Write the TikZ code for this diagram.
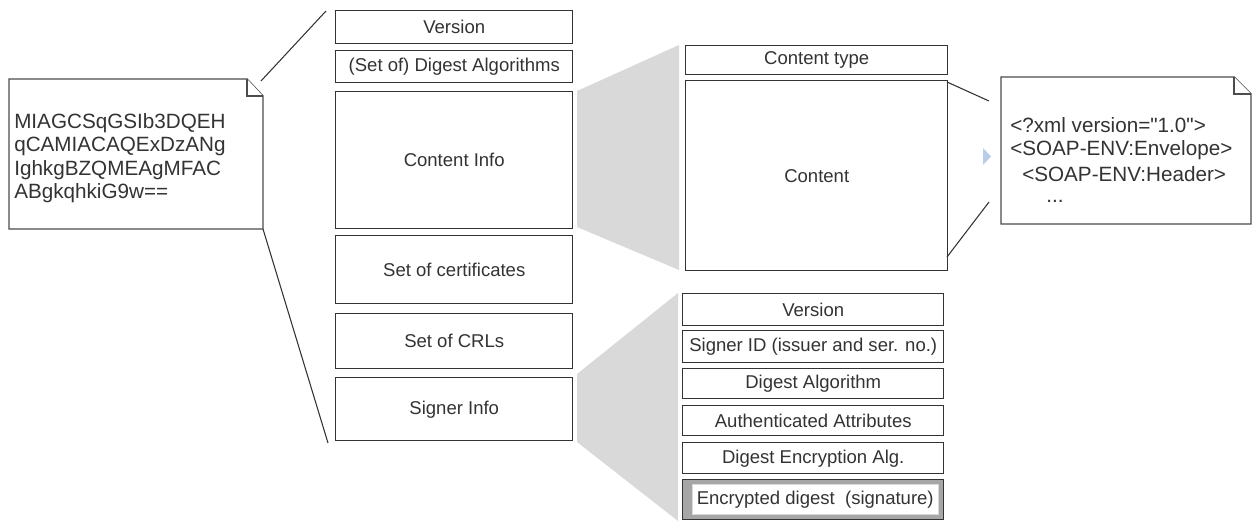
\documentclass[tikz,border=0pt]{standalone}
\usepackage{fontspec}
\setmainfont{Liberation Sans}
\newfontfamily\plainsans{Liberation Sans}
\begin{document}
\definecolor{ln}{HTML}{333333}
\definecolor{wedge}{HTML}{D9D9D9}
\definecolor{tri}{HTML}{B9CDEB}
\begin{tikzpicture}[x=0.75pt,y=-0.75pt,
  box/.style={draw=ln, line width=1.1pt, fill=white, inner sep=0pt, anchor=north west,
    text=ln, font=\fontsize{13.9}{16}\selectfont},
  conn/.style={draw=ln, line width=0.8pt},
  notebody/.style={draw=black!70, line width=1.1pt, fill=white, line join=miter},
  notetext/.style={inner sep=0pt, align=left, anchor=west, text=ln,
    font=\fontsize{15.5}{17.6}\selectfont},
  xmltext/.style={inner sep=0pt, anchor=west, text=ln, font=\plainsans\fontsize{15.5}{17.6}\selectfont}]
\useasboundingbox (0,0) rectangle (1253,521);

% grey wedges
\fill[wedge] (577,91) -- (679,45) -- (679,270) -- (577,227) -- cycle;
\fill[wedge] (577,374) -- (678,293) -- (678,521) -- (577,442) -- cycle;

% left note
\draw[notebody] (9,79) -- (247,79) -- (263,96) -- (263,229) -- (9,229) -- cycle;
\draw[notebody] (247,79) -- (247,96) -- (263,96);
\node[notetext] (b64) at (14,158) {MIAGCSqGSIb3DQEH\\qCAMIACAQExDzANg\\IghkgBZQMEAgMFAC\\ABgkqhkiG9w==};

% main stack
\node[box, minimum width={237*0.75pt}, minimum height={33*0.75pt}] (ver) at (335,10) {Version};
\node[box, minimum width={237*0.75pt}, minimum height={32*0.75pt}] (dig) at (335,50) {(Set of) Digest Algorithms};
\node[box, minimum width={237*0.75pt}, minimum height={137*0.75pt}] (ci) at (335,91) {Content Info};
\node[box, minimum width={237*0.75pt}, minimum height={68*0.75pt}] (cert) at (335,235) {Set of certificates};
\node[box, minimum width={237*0.75pt}, minimum height={55*0.75pt}] (crl) at (335,313) {Set of CRLs};
\node[box, minimum width={237*0.75pt}, minimum height={63*0.75pt}] (si) at (335,377) {Signer Info};

% content info detail
\node[box, minimum width={262*0.75pt}, minimum height={29*0.75pt}] (ctype) at (685,45) {Content type};
\node[box, minimum width={262*0.75pt}, minimum height={190*0.75pt}] (cont) at (685,80) {Content};

% signer info detail
\node[box, minimum width={261*0.75pt}, minimum height={32*0.75pt}] (sver) at (682,293) {Version};
\node[box, minimum width={261*0.75pt}, minimum height={32*0.75pt}] (sid) at (682,330) {Signer ID (issuer and ser. no.)};
\node[box, minimum width={261*0.75pt}, minimum height={30*0.75pt}] (sdig) at (682,368) {Digest Algorithm};
\node[box, minimum width={261*0.75pt}, minimum height={30*0.75pt}] (sauth) at (682,405) {Authenticated Attributes};
\node[box, minimum width={261*0.75pt}, minimum height={31*0.75pt}] (senc) at (682,442) {Digest Encryption Alg.};
\node[box, fill=black!35, draw=black!80, minimum width={261*0.75pt}, minimum height={40*0.75pt}] (ed) at (682,479) {};
\node[inner sep=0pt, fill=white, draw=black!15, line width=0.4pt, text=ln,
  font=\fontsize{13.9}{16}\selectfont, minimum width={246*0.75pt}, minimum height={30*0.75pt}]
  (edt) at ([xshift=1.5pt]ed.center) {Encrypted digest\ \ (signature)};

% XML note
\draw[notebody] (1001,77) -- (1234,77) -- (1251,94) -- (1251,224) -- (1001,224) -- cycle;
\draw[notebody] (1234,77) -- (1234,94) -- (1251,94);
\node[xmltext] (x1) at (1010,125) {<?xml version="1.0">};
\node[xmltext] (x2) at (1010,150) {<SOAP-ENV:Envelope>};
\node[xmltext] (x3) at (1022,174) {<SOAP-ENV:Header>};
\node[xmltext] (x4) at (1046,201) {...};

% small blue marker
\fill[tri] (983,148) -- (991,156.5) -- (983,165) -- cycle;

% connectors
\coordinate (nTop) at (261,81);
\coordinate (nBot) at (263,229);
\coordinate (vTop) at (326,11);
\coordinate (sBot) at (328,443);
\draw[conn] (nTop) -- (vTop);
\draw[conn] (nBot) -- (sBot);
\coordinate (c1) at (947,82);
\coordinate (c2) at (947,257);
\coordinate (xa) at (989,101);
\coordinate (xb) at (989,202);
\draw[conn] (c1) -- (xa);
\draw[conn] (c2) -- (xb);
\end{tikzpicture}
\end{document}
